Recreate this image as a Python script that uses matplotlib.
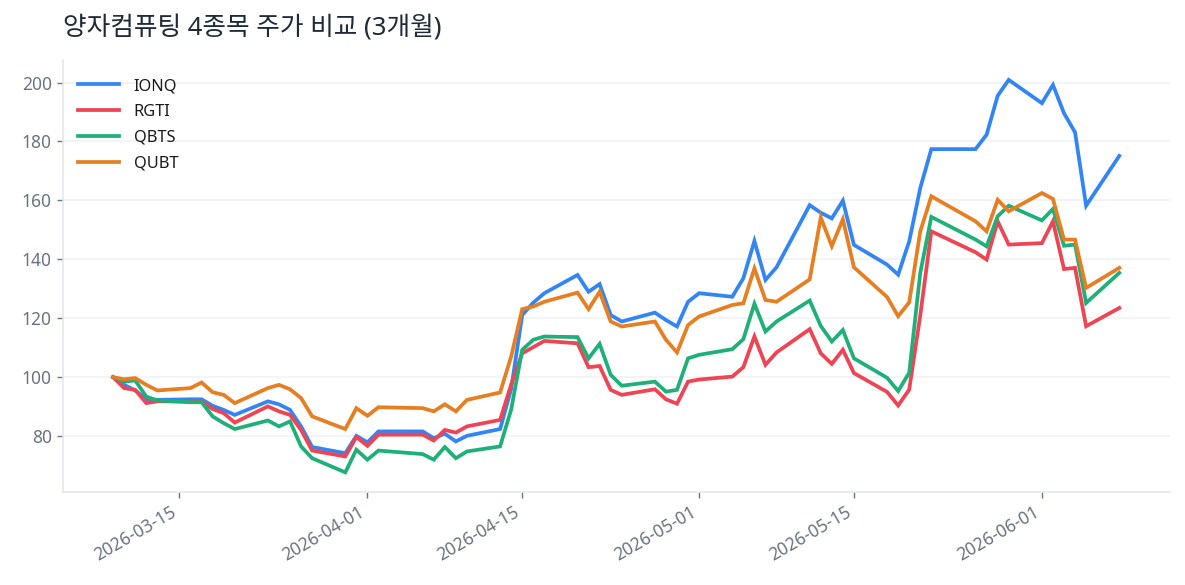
import matplotlib
matplotlib.use("Agg")
import matplotlib.pyplot as plt
import matplotlib.dates as mdates
import pandas as pd

plt.rcParams['font.family'] = ['Noto Sans', 'Noto Sans CJK KR', 'DejaVu Sans']

dates = [
    "2026-03-09", "2026-03-10", "2026-03-11", "2026-03-12", "2026-03-13",
    "2026-03-16", "2026-03-17", "2026-03-18", "2026-03-19", "2026-03-20",
    "2026-03-23", "2026-03-24", "2026-03-25", "2026-03-26", "2026-03-27",
    "2026-03-30", "2026-03-31", "2026-04-01", "2026-04-02",
    "2026-04-06", "2026-04-07", "2026-04-08", "2026-04-09", "2026-04-10",
    "2026-04-13", "2026-04-14", "2026-04-15", "2026-04-16", "2026-04-17",
    "2026-04-20", "2026-04-21", "2026-04-22", "2026-04-23", "2026-04-24",
    "2026-04-27", "2026-04-28", "2026-04-29", "2026-04-30", "2026-05-01",
    "2026-05-04", "2026-05-05", "2026-05-06", "2026-05-07", "2026-05-08",
    "2026-05-11", "2026-05-12", "2026-05-13", "2026-05-14", "2026-05-15",
    "2026-05-18", "2026-05-19", "2026-05-20", "2026-05-21", "2026-05-22",
    "2026-05-26", "2026-05-27", "2026-05-28", "2026-05-29",
    "2026-06-01", "2026-06-02", "2026-06-03", "2026-06-04", "2026-06-05",
    "2026-06-08",
]

ionq = [
    100.0, 97.4, 95.5, 92.5, 92.3,
    92.5, 92.5, 90.3, 88.9, 87.2,
    91.8, 90.8, 88.9, 83.3, 76.3,
    74.2, 80.1, 77.9, 81.6,
    81.6, 79.3, 80.8, 78.2, 80.1,
    82.4, 96.0, 121.1, 125.3, 128.5,
    134.7, 129.0, 131.6, 121.1, 118.9,
    121.9, 119.4, 117.2, 125.6, 128.5,
    127.3, 133.6, 146.2, 133.0, 137.3,
    158.4, 155.8, 153.9, 159.9, 144.9,
    138.2, 134.8, 146.1, 164.2, 177.4,
    177.4, 182.3, 195.5, 200.9,
    193.0, 199.2, 189.6, 183.1, 158.2,
    175.1,
]

rgti = [
    100.0, 96.3, 95.7, 91.2, 91.8,
    91.8, 91.8, 89.2, 87.8, 84.6,
    90.1, 88.4, 87.2, 82.1, 75.1,
    73.1, 79.7, 76.7, 80.5,
    80.5, 78.5, 82.1, 81.2, 83.3,
    85.5, 97.5, 108.1, 110.2, 112.3,
    111.5, 103.4, 103.8, 95.7, 94.0,
    95.9, 92.5, 91.0, 98.5, 99.2,
    100.2, 103.4, 113.8, 104.2, 108.4,
    116.3, 108.1, 104.5, 109.3, 101.4,
    95.0, 90.4, 95.8, 121.0, 149.5,
    142.4, 139.9, 152.9, 145.0,
    145.5, 152.9, 136.7, 137.1, 117.3,
    123.5,
]

qbts = [
    100.0, 98.5, 98.9, 93.4, 92.1,
    91.5, 91.5, 86.7, 84.4, 82.4,
    85.3, 83.3, 85.0, 76.5, 72.5,
    67.7, 75.4, 72.0, 75.1,
    73.9, 72.0, 76.3, 72.5, 74.8,
    76.5, 89.0, 109.3, 112.7, 113.8,
    113.6, 106.4, 111.3, 100.8, 97.1,
    98.5, 95.1, 95.7, 106.4, 107.6,
    109.5, 112.9, 124.9, 115.5, 118.9,
    126.0, 117.4, 112.1, 116.0, 106.4,
    99.8, 95.3, 101.5, 135.4, 154.4,
    146.7, 144.4, 154.6, 158.2,
    153.2, 157.1, 144.6, 145.0, 125.2,
    135.4,
]

qubt = [
    100.0, 99.3, 99.7, 97.4, 95.5,
    96.3, 98.2, 94.9, 94.0, 91.2,
    96.3, 97.4, 95.9, 92.9, 86.7,
    82.4, 89.5, 86.9, 89.8,
    89.5, 88.4, 90.8, 88.4, 92.3,
    94.8, 107.0, 123.1, 124.0, 125.6,
    128.7, 123.1, 129.0, 118.9, 117.2,
    118.9, 112.7, 108.4, 117.7, 120.6,
    124.5, 125.1, 136.9, 126.2, 125.6,
    133.2, 154.2, 144.5, 153.6, 137.3,
    127.2, 120.7, 125.4, 149.5, 161.4,
    152.9, 149.5, 160.2, 156.3,
    162.5, 160.5, 146.7, 146.7, 130.3,
    137.1,
]

series_names = ["IONQ", "RGTI", "QBTS", "QUBT"]
series_values = [ionq, rgti, qbts, qubt]
series_colors = ["#3385f5", "#ef4453", "#1fb07a", "#e67e22"]

x = pd.to_datetime(dates)

fig = plt.figure(figsize=(11.85, 5.85), dpi=100)
ax = fig.add_axes([0.053, 0.159, 0.934, 0.738])

for name, vals, col in zip(series_names, series_values, series_colors):
    ax.plot(x, vals, color=col, linewidth=2.7, label=name, solid_joinstyle='miter')

ax.xaxis.set_major_locator(mdates.DayLocator(bymonthday=[1, 15]))
ax.xaxis.set_major_formatter(mdates.DateFormatter("%Y-%m-%d"))
ax.set_yticks([80, 100, 120, 140, 160, 180, 200])

for lbl in ax.get_xticklabels():
    lbl.set_rotation(30)
    lbl.set_ha("right")

ax.tick_params(axis='both', colors='#6b7280', labelsize=12.5, length=4.5, width=1)

ax.grid(axis='y', color='#f1f2f4', linewidth=1.2)
ax.grid(axis='x', visible=False)
ax.set_axisbelow(True)

for s in ['top', 'right']:
    ax.spines[s].set_visible(False)
for s in ['left', 'bottom']:
    ax.spines[s].set_color('#e5e7eb')
    ax.spines[s].set_linewidth(1.2)

leg = ax.legend(loc='upper left', bbox_to_anchor=(0.0, 0.993), frameon=False,
                fontsize=11.8, handlelength=2.55, labelspacing=0.6,
                handletextpad=0.87, borderaxespad=0.5)
for t in leg.get_texts():
    t.set_color('#1a1a1a')

fig.text(0.053, 0.952, "양자컴퓨팅 4종목 주가 비교 (3개월)", fontsize=18.5,
         color='#1f2937', ha='left', va='center')

fig.savefig("out.png", dpi=100)
